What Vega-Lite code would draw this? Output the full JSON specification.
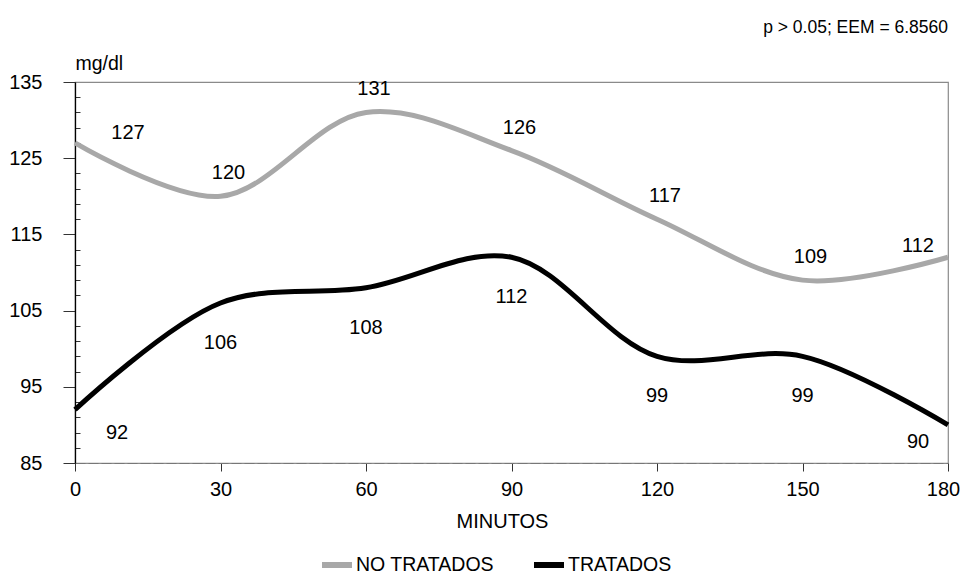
{
  "$schema": "https://vega.github.io/schema/vega-lite/v6.json",
  "width": 873,
  "height": 381,
  "autosize": {"type": "none"},
  "padding": {"left": 75, "top": 82, "right": 14, "bottom": 113},
  "background": "white",
  "config": {
    "font": "Liberation Sans",
    "view": {"stroke": "#8a8a8a", "strokeWidth": 1.2},
    "text": {"font": "Liberation Sans", "fontSize": 20, "color": "black"}
  },
  "title": {
    "text": "p > 0.05; EEM = 6.8560",
    "anchor": "end",
    "frame": "group",
    "fontSize": 17.5,
    "fontWeight": "normal",
    "font": "Liberation Sans",
    "color": "black",
    "offset": 17
  },
  "data": {
    "values": [
      {"minutos": 0, "grupo": "NO TRATADOS", "mg": 127},
      {"minutos": 30, "grupo": "NO TRATADOS", "mg": 120},
      {"minutos": 60, "grupo": "NO TRATADOS", "mg": 131},
      {"minutos": 90, "grupo": "NO TRATADOS", "mg": 126},
      {"minutos": 120, "grupo": "NO TRATADOS", "mg": 117},
      {"minutos": 150, "grupo": "NO TRATADOS", "mg": 109},
      {"minutos": 180, "grupo": "NO TRATADOS", "mg": 112},
      {"minutos": 0, "grupo": "TRATADOS", "mg": 92},
      {"minutos": 30, "grupo": "TRATADOS", "mg": 106},
      {"minutos": 60, "grupo": "TRATADOS", "mg": 108},
      {"minutos": 90, "grupo": "TRATADOS", "mg": 112},
      {"minutos": 120, "grupo": "TRATADOS", "mg": 99},
      {"minutos": 150, "grupo": "TRATADOS", "mg": 99},
      {"minutos": 180, "grupo": "TRATADOS", "mg": 90}
    ]
  },
  "encoding": {
    "x": {
      "field": "minutos",
      "type": "quantitative",
      "scale": {"domain": [0, 180], "nice": false, "zero": false},
      "axis": {
        "values": [0, 30, 60, 90, 120, 150, 180],
        "title": "MINUTOS",
        "titleFontSize": 20,
        "titleFontWeight": "normal",
        "titleFont": "Liberation Sans",
        "titleColor": "black",
        "titlePadding": 12,
        "titleX": 427,
        "titleAlign": "center",
        "labelFontSize": 20,
        "labelColor": "black",
        "labelFont": "Liberation Sans",
        "labelPadding": 8,
        "labelFlush": false,
        "labelOffset": {"condition": {"test": "datum.value == 180", "value": -5}, "value": 0},
        "tickSize": 8,
        "tickColor": "#333",
        "domainColor": "#777",
        "domainDash": [10, 3],
        "grid": false
      }
    },
    "y": {
      "field": "mg",
      "type": "quantitative",
      "scale": {"domain": [85, 135], "nice": false, "zero": false},
      "axis": {
        "values": [85, 87, 89, 91, 93, 95, 97, 99, 101, 103, 105, 107, 109, 111, 113, 115, 117, 119, 121, 123, 125, 127, 129, 131, 133, 135],
        "labelExpr": "(datum.value - 85) % 10 == 0 ? datum.label : ''",
        "tickSize": {"condition": {"test": "(datum.value - 85) % 10 == 0", "value": 12}, "value": -5},
        "tickColor": "#333",
        "domainColor": "black",
        "domainWidth": 1.3,
        "labelFontSize": 20,
        "labelColor": "black",
        "labelFont": "Liberation Sans",
        "labelPadding": 21,
        "labelFlush": false,
        "grid": false,
        "title": "mg/dl",
        "titleAngle": 0,
        "titleAlign": "left",
        "titleBaseline": "bottom",
        "titleX": 0,
        "titleY": -9,
        "titleFontSize": 19.5,
        "titleFontWeight": "normal",
        "titleFont": "Liberation Sans",
        "titleColor": "black"
      }
    }
  },
  "layer": [
    {
      "mark": {"type": "line", "interpolate": "catmull-rom", "strokeWidth": 5},
      "encoding": {
        "color": {
          "field": "grupo",
          "type": "nominal",
          "scale": {"domain": ["NO TRATADOS", "TRATADOS"], "range": ["#a8a8a8", "#000000"]},
          "legend": {
            "title": null,
            "orient": "none",
            "legendX": 244,
            "legendY": 465,
            "direction": "horizontal",
            "symbolType": "stroke",
            "symbolStrokeWidth": 6,
            "symbolSize": 900,
            "labelFontSize": 19.5,
            "labelFont": "Liberation Sans",
            "labelColor": "black",
            "labelOffset": 1,
            "columnPadding": 28
          }
        }
      }
    },
    {
      "transform": [{"filter": "datum.grupo == 'NO TRATADOS' && datum.minutos > 0 && datum.minutos < 180"}],
      "mark": {"type": "text", "dx": 8, "dy": -23},
      "encoding": {"text": {"field": "mg", "type": "quantitative"}}
    },
    {
      "transform": [{"filter": "datum.grupo == 'NO TRATADOS' && datum.minutos == 0"}],
      "mark": {"type": "text", "dx": 53, "dy": -10},
      "encoding": {"text": {"field": "mg", "type": "quantitative"}}
    },
    {
      "transform": [{"filter": "datum.grupo == 'NO TRATADOS' && datum.minutos == 180"}],
      "mark": {"type": "text", "dx": -30, "dy": -11},
      "encoding": {"text": {"field": "mg", "type": "quantitative"}}
    },
    {
      "transform": [{"filter": "datum.grupo == 'TRATADOS' && datum.minutos > 0 && datum.minutos < 180"}],
      "mark": {"type": "text", "dx": 0, "dy": 40},
      "encoding": {"text": {"field": "mg", "type": "quantitative"}}
    },
    {
      "transform": [{"filter": "datum.grupo == 'TRATADOS' && datum.minutos == 0"}],
      "mark": {"type": "text", "dx": 42, "dy": 23},
      "encoding": {"text": {"field": "mg", "type": "quantitative"}}
    },
    {
      "transform": [{"filter": "datum.grupo == 'TRATADOS' && datum.minutos == 180"}],
      "mark": {"type": "text", "dx": -30, "dy": 17},
      "encoding": {"text": {"field": "mg", "type": "quantitative"}}
    }
  ]
}
